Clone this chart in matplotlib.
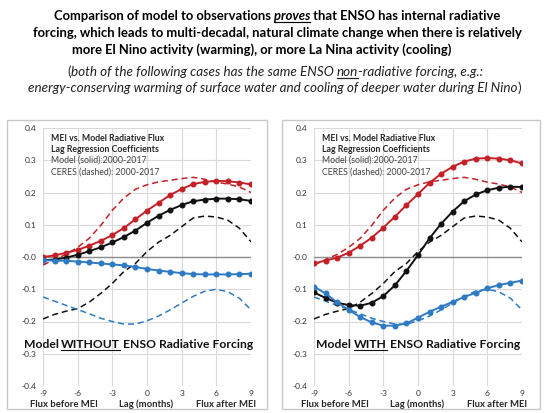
import numpy as np
import matplotlib
matplotlib.use('Agg')
import matplotlib.pyplot as plt
from matplotlib.lines import Line2D
from matplotlib.patches import Rectangle

lags = np.arange(-9, 10)

# CERES observations (dashed), same in both panels
ceres_sw = [-0.025, -0.008, 0.008, 0.03, 0.058, 0.098, 0.145, 0.183, 0.21, 0.224,
            0.233, 0.238, 0.243, 0.247, 0.241, 0.232, 0.226, 0.217, 0.2]
ceres_net = [-0.192, -0.178, -0.168, -0.16, -0.14, -0.113, -0.082, -0.045, -0.02, 0.017,
             0.046, 0.067, 0.094, 0.121, 0.127, 0.124, 0.114, 0.089, 0.047]
ceres_lw = [-0.124, -0.137, -0.15, -0.163, -0.176, -0.19, -0.2, -0.208, -0.208, -0.198,
            -0.183, -0.164, -0.143, -0.122, -0.106, -0.1, -0.108, -0.128, -0.164]

# model without ENSO radiative forcing (solid)
wo_sw = [0.0, 0.005, 0.013, 0.022, 0.035, 0.05, 0.068, 0.09, 0.117, 0.144,
         0.168, 0.192, 0.211, 0.226, 0.233, 0.236, 0.235, 0.231, 0.225]
wo_net = [-0.01, -0.008, -0.002, 0.007, 0.018, 0.03, 0.045, 0.062, 0.082, 0.106,
          0.128, 0.146, 0.161, 0.173, 0.178, 0.181, 0.181, 0.179, 0.174]
wo_lw = [-0.01, -0.011, -0.012, -0.014, -0.017, -0.02, -0.023, -0.026, -0.031, -0.037,
         -0.042, -0.046, -0.05, -0.053, -0.054, -0.054, -0.054, -0.053, -0.052]

# model with ENSO radiative forcing (solid)
w_sw = [-0.02, -0.011, -0.002, 0.013, 0.035, 0.06, 0.091, 0.125, 0.161, 0.195,
        0.23, 0.258, 0.28, 0.296, 0.305, 0.307, 0.305, 0.3, 0.29]
w_net = [-0.11, -0.127, -0.142, -0.149, -0.151, -0.142, -0.121, -0.088, -0.043, 0.006,
         0.058, 0.103, 0.141, 0.173, 0.194, 0.207, 0.215, 0.218, 0.217]
w_lw = [-0.092, -0.113, -0.141, -0.164, -0.186, -0.203, -0.213, -0.213, -0.206, -0.188,
        -0.17, -0.154, -0.139, -0.124, -0.111, -0.097, -0.087, -0.08, -0.073]

RED = '#c42028'
BLACK = '#111111'
BLUE = '#2e7bc4'

plt.rcParams['font.family'] = ['Lato', 'DejaVu Sans']
plt.rcParams['axes.unicode_minus'] = False

W, H = 550, 413
fig = plt.figure(figsize=(W / 100, H / 100), dpi=100)
renderer = fig.canvas.get_renderer()


def fx(px):
    return px / W


def fy(py):
    return 1 - py / H


def text_width(s, **kw):
    t = fig.text(0, 0, '|' + s + '|', **kw)
    w1 = t.get_window_extent(renderer).width
    t.remove()
    t = fig.text(0, 0, '||', **kw)
    w0 = t.get_window_extent(renderer).width
    t.remove()
    return w1 - w0


def line_width(parts, size):
    return sum(text_width(s, fontsize=size, fontweight=w, fontstyle=st)
               for s, w, st, u in parts)


def fit_size(parts, target):
    # font size that gives a line of the wanted pixel width
    return 10 * target / line_width(parts, 10)


def rich_line(cx, base_y, parts, size, color='black'):
    """parts: list of (string, weight, style, underline); centred at cx"""
    widths = [text_width(s, fontsize=size, fontweight=w, fontstyle=st)
              for s, w, st, u in parts]
    x = cx - sum(widths) / 2
    for (s, w, st, u), wd in zip(parts, widths):
        fig.text(fx(x), fy(base_y), s, fontsize=size, fontweight=w,
                 fontstyle=st, color=color, va='baseline', ha='left')
        if u:
            ls = len(s) - len(s.lstrip())
            rs = len(s) - len(s.rstrip())
            off_l = text_width(s[:ls], fontsize=size, fontweight=w, fontstyle=st) if ls else 0
            off_r = text_width(s[len(s) - rs:], fontsize=size, fontweight=w, fontstyle=st) if rs else 0
            uy = base_y + size * 0.2
            fig.add_artist(Line2D([fx(x + off_l), fx(x + wd - off_r)], [fy(uy), fy(uy)],
                                  transform=fig.transFigure, color=color,
                                  lw=max(0.8, size / 11)))
        x += wd


# title
title1 = [('Comparison of model to observations ', 'bold', 'normal', False),
          ('proves', 'bold', 'italic', True),
          (' that ENSO has internal radiative', 'bold', 'normal', False)]
title2 = [('forcing, which leads to multi-decadal, natural climate change when there is relatively',
           'bold', 'normal', False)]
title3 = [('more El Nino activity (warming), or more La Nina activity (cooling)',
           'bold', 'normal', False)]
tsize = fit_size(title2, 488)
rich_line(277, 20, title1, tsize)
rich_line(277, 37, title2, tsize)
rich_line(262, 54, title3, tsize)

sub1 = [('(', 'normal', 'normal', False),
        ('both of the following cases has the same ENSO ', 'normal', 'italic', False),
        ('non', 'normal', 'italic', True),
        ('-radiative forcing, e.g.:', 'normal', 'italic', False)]
sub2 = [('energy-conserving warming of surface water and cooling of deeper water during El Nino',
         'normal', 'italic', False),
        (')', 'normal', 'normal', False)]
ssize = fit_size(sub2, 494)
rich_line(275, 76, sub1, ssize, '#222222')
rich_line(275, 92, sub2, ssize, '#222222')

# panel frames
for x0, x1 in [(7, 267), (282, 540)]:
    fig.add_artist(Rectangle((fx(x0), fy(409)), fx(x1 - x0), (409 - 120) / H,
                             transform=fig.transFigure, fill=False,
                             edgecolor='#c8c8c8', lw=1.0))

big_wo = [('Model ', 'bold', 'normal', False), ('WITHOUT', 'bold', 'normal', True),
          (' ENSO Radiative Forcing', 'bold', 'normal', False)]
big_w = [('Model ', 'bold', 'normal', False), ('WITH', 'bold', 'normal', True),
         (' ENSO Radiative Forcing', 'bold', 'normal', False)]
bsize = fit_size(big_wo, 231)

inset_size = 10 * 113 / text_width('MEI vs. Model Radiative Flux', fontsize=10, fontweight='bold')
row_size = 10 * 68 / text_width('Flux before MEI', fontsize=10, fontweight='bold')

panels = [
    (43, wo_sw, wo_net, wo_lw, big_wo, 138.5),
    (314, w_sw, w_net, w_lw, big_w, 418.5),
]

for left_px, sw, net, lw_, big, cx in panels:
    ax = fig.add_axes([fx(left_px), (H - 386) / H, 208 / W, 258 / H])
    ax.set_xlim(-9, 9)
    ax.set_ylim(-0.4, 0.4)
    ax.set_yticks(np.arange(-0.4, 0.41, 0.1))
    ax.set_yticklabels(['%.1f' % v for v in np.arange(-0.4, 0.41, 0.1)])
    ax.set_xticks([-9, -6, -3, 0, 3, 6, 9])
    ax.grid(True, color='#d9d9d9', lw=0.8)
    ax.set_axisbelow(True)
    for sp in ax.spines.values():
        sp.set_visible(False)
    ax.tick_params(length=0, labelsize=6, labelcolor='#333333')
    ax.tick_params(axis='x', pad=3)
    ax.tick_params(axis='y', pad=5)
    ax.axhline(0, color='#8c8c8c', lw=1.0, zorder=1)

    ax.plot(lags, ceres_sw, '--', color=RED, lw=1.1, dashes=(4, 2.5))
    ax.plot(lags, ceres_net, '--', color=BLACK, lw=1.1, dashes=(4, 2.5))
    ax.plot(lags, ceres_lw, '--', color=BLUE, lw=1.1, dashes=(4, 2.5))
    ax.plot(lags, sw, '-o', color=RED, lw=1.4, ms=3.3)
    ax.plot(lags, net, '-o', color=BLACK, lw=1.4, ms=3.3)
    ax.plot(lags, lw_, '-o', color=BLUE, lw=1.4, ms=3.3)

    ax.text(-8.3, 0.366, 'MEI vs. Model Radiative Flux', fontsize=inset_size,
            fontweight='bold', color='#262626', va='center')
    ax.text(-8.3, 0.333, 'Lag Regression Coefficients', fontsize=inset_size,
            fontweight='bold', color='#262626', va='center')
    ax.text(-8.3, 0.30, 'Model (solid):2000-2017', fontsize=inset_size,
            color='#404040', va='center')
    ax.text(-8.3, 0.262, 'CERES (dashed): 2000-2017', fontsize=inset_size,
            color='#404040', va='center')

    trans = ax.get_xaxis_transform()
    for xv, s in [(-7.2, 'Flux before MEI'), (-0.1, 'Lag (months)'), (6.8, 'Flux after MEI')]:
        ax.text(xv, -0.072, s, transform=trans, fontsize=row_size, fontweight='bold',
                color='#262626', ha='center', va='center')

    rich_line(cx, 348, big, bsize, '#111111')

fig.savefig('out.png', dpi=100)
